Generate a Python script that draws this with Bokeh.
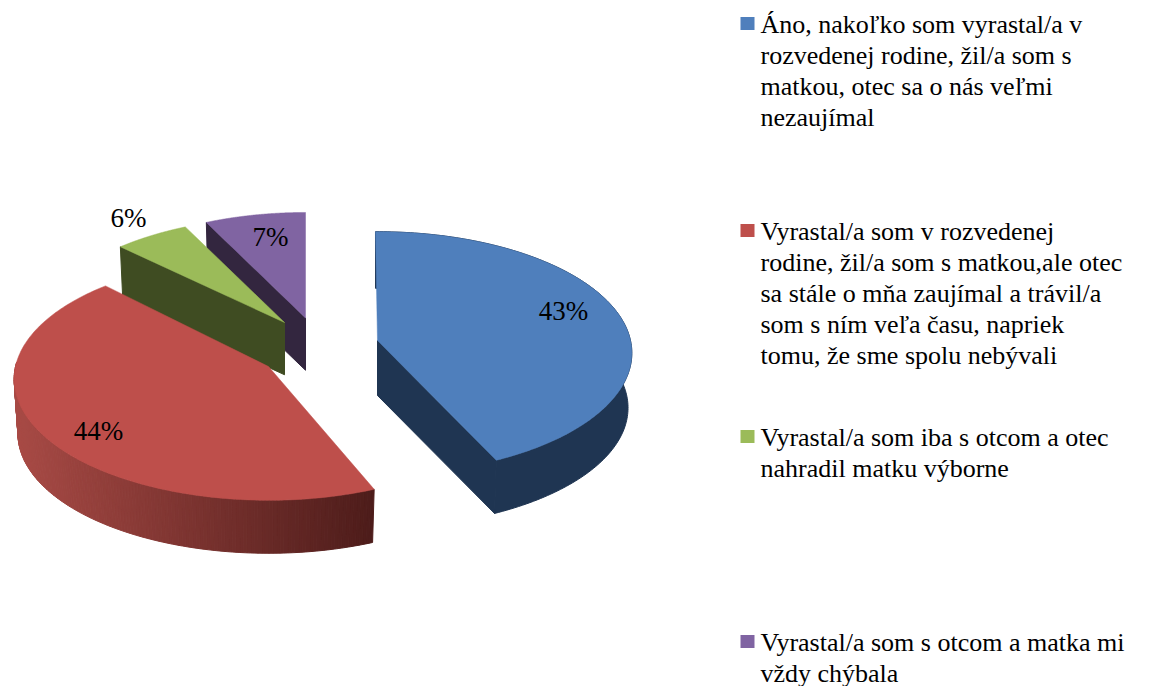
import numpy as np
from bokeh.plotting import figure
from bokeh.models import Range1d
from bokeh.core.properties import value
from bokeh.embed import file_html
from bokeh.resources import INLINE

# --- data ---
shares = [43, 44, 6, 7]
share_labels = ["43%", "44%", "6%", "7%"]
legend_lines = [
    ["Áno, nakoľko som vyrastal/a v", "rozvedenej rodine, žil/a som s", "matkou, otec sa o nás veľmi", "nezaujímal"],
    ["Vyrastal/a som v rozvedenej", "rodine, žil/a som s matkou,ale otec", "sa stále o mňa zaujímal a trávil/a", "som s ním veľa času, napriek", "tomu, že sme spolu nebývali"],
    ["Vyrastal/a som iba s otcom a otec", "nahradil matku výborne"],
    ["Vyrastal/a som s otcom a matka mi", "vždy chýbala"],
]

# --- style / layout ---
top_colors = ["#4f7fbc", "#be4f4b", "#9bbb59", "#8064a2"]
wall_colors = ["#1f3552", None, "#3f4c22", "#33263f"]
red_wall_left = np.array([0xa8, 0x4a, 0x45])
red_wall_right = np.array([0x4d, 0x1c, 0x1a])
apexes = [(377, 340), (268, 366), (284, 322), (305, 317.5)]
slice_scale = [1.0, 1.0, 0.97, 0.97]
angle_adjust = [(-0.5, 0), (3, 3), (1, -1), (-1, 0)]
label_pos = [(563, 310), (98, 430), (128, 217), (270, 236)]
legend_y = [[24, 55, 86, 117], [231, 262, 293, 324, 355], [437, 468], [642, 673]]
A, B, T = 253.0, 120.0, 0.103
DEPTH, BOTTOM_SCALE = 55.0, 0.985
FONT = "'Liberation Serif', 'Times New Roman', serif"


def project(theta_deg, scale=1.0):
    th = np.radians(theta_deg)
    u, v = np.sin(th), -np.cos(th)
    s = 1.0 / (1.0 - T * v)
    return A * u * s * scale, B * v * s * scale


p = figure(width=1153, height=686, x_range=Range1d(0, 1153), y_range=Range1d(686, 0),
           output_backend="svg", toolbar_location=None, min_border=0)
p.xaxis.visible = False
p.yaxis.visible = False
p.grid.visible = False
p.outline_line_color = None

edges = np.concatenate([[0], np.cumsum(shares)]) * 3.6
order = [3, 2, 0, 1]

for i in order:
    t0, t1 = edges[i] + angle_adjust[i][0], edges[i + 1] + angle_adjust[i][1]
    ax, ay = apexes[i]
    sc_i = slice_scale[i]
    thetas = np.linspace(t0, t1, 160)
    X, Y = project(thetas, sc_i)
    Xb, Yb = project(thetas, sc_i * BOTTOM_SCALE)
    if i == 0:
        xs = list(ax + X) + list(ax + Xb[::-1])
        ys = list(ay + Y) + list(ay + DEPTH + Yb[::-1])
        p.patch(xs, ys, fill_color=wall_colors[i], line_color=wall_colors[i], line_width=1)
        ex, ey = X[-1], Y[-1]
        exb, eyb = Xb[-1], Yb[-1]
        p.patch([ax, ax + ex, ax + exb, ax], [ay, ay + ey, ay + DEPTH + eyb, ay + DEPTH],
                fill_color=wall_colors[i], line_color=wall_colors[i], line_width=1)
    elif i == 1:
        sx, sy, sc = [], [], []
        k = 150
        th = np.linspace(t0, 272, k + 1)
        Xa, Ya = project(th)
        Xc, Yc = project(th, BOTTOM_SCALE)
        xmin, xmax = ax + Xa.min(), ax + Xa.max()
        for j in range(k):
            sx.append([ax + Xa[j], ax + Xa[j + 1], ax + Xc[j + 1], ax + Xc[j]])
            sy.append([ay + Ya[j], ay + Ya[j + 1], ay + DEPTH + Yc[j + 1], ay + DEPTH + Yc[j]])
            f = (ax + 0.5 * (Xa[j] + Xa[j + 1]) - xmin) / (xmax - xmin)
            c = red_wall_left * (1 - f) + red_wall_right * f
            sc.append("#%02x%02x%02x" % tuple(int(round(q)) for q in c))
        p.patches(sx, sy, fill_color=sc, line_color=sc, line_width=1)
    else:
        ex, ey = X[0], Y[0]
        exb, eyb = Xb[0], Yb[0]
        p.patch([ax + ex, ax, ax, ax + exb], [ay + ey, ay, ay + DEPTH * 0.95, ay + DEPTH * 0.95 + eyb],
                fill_color=wall_colors[i], line_color=wall_colors[i], line_width=1)
    xs = [ax] + list(ax + X)
    ys = [ay] + list(ay + Y)
    p.patch(xs, ys, fill_color=top_colors[i], line_color=top_colors[i], line_width=0.5)

p.text([q[0] for q in label_pos], [q[1] for q in label_pos], text=share_labels,
       text_font=value(FONT), text_font_size="27px", text_color="#000000",
       text_align="center", text_baseline="middle")

for i, lines in enumerate(legend_lines):
    ys = legend_y[i]
    p.text([760] * len(lines), ys, text=lines, text_font=value(FONT), text_font_size="26px",
           text_color="#000000", text_align="left", text_baseline="middle")
    p.rect([747], [ys[0] - 1], width=14, height=13, fill_color=top_colors[i], line_color=None)

open("out.html", "w").write(file_html(p, INLINE))
